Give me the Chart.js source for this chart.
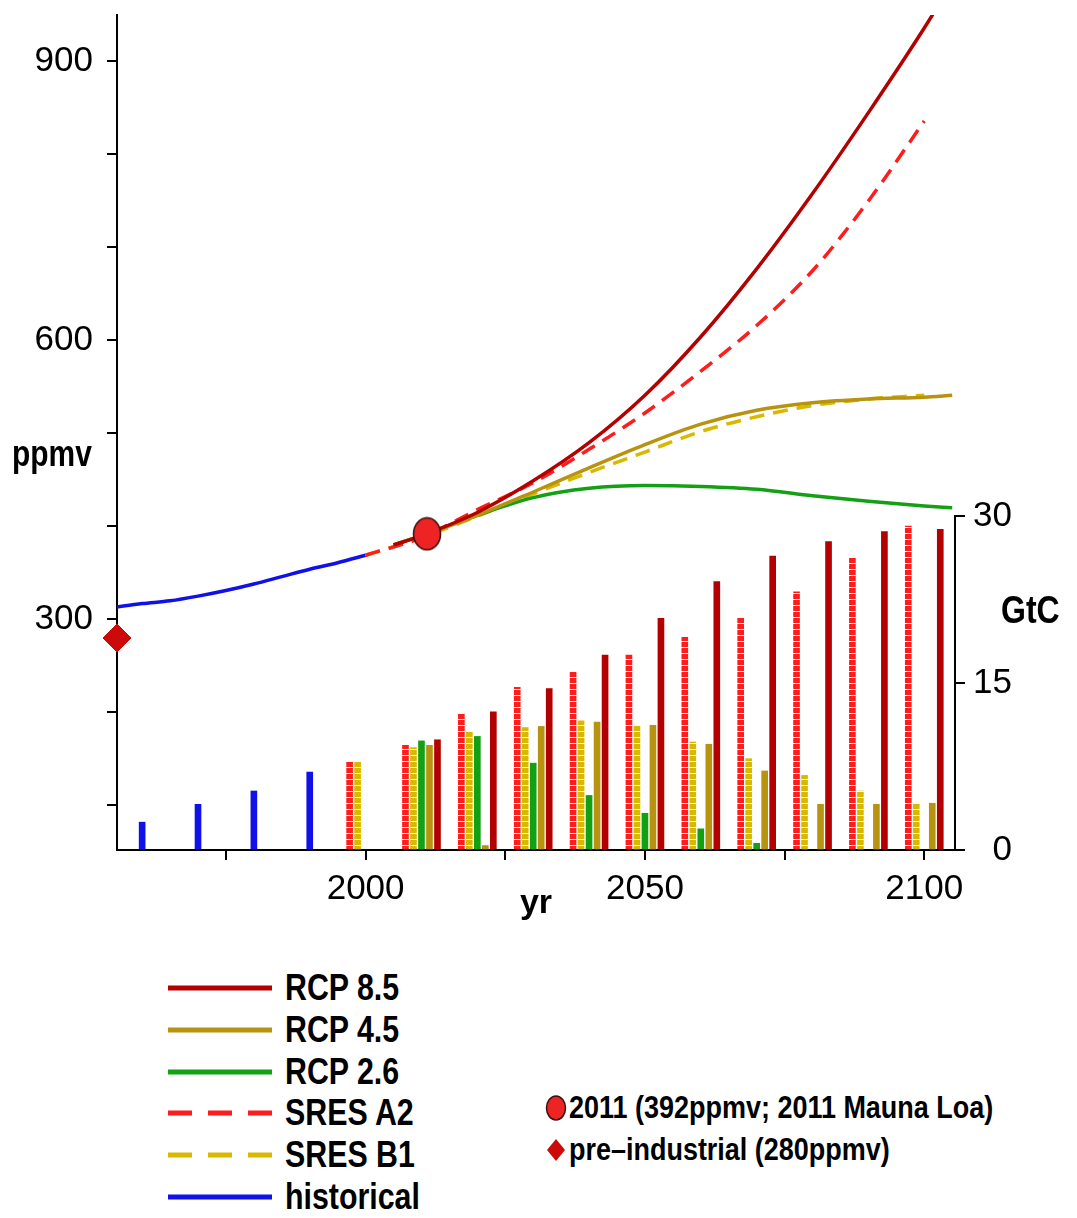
<!DOCTYPE html>
<html>
<head>
<meta charset="utf-8">
<title>CO2 concentration and emissions</title>
<script src="https://cdn.jsdelivr.net/npm/chart.js@4.4.0/dist/chart.umd.min.js"></script>
<style>
  body { margin: 0; background: #fff; width: 1077px; height: 1218px; position: relative; overflow: hidden;
         font-family: 'Liberation Sans', Arial, sans-serif; }
  #chart { position: absolute; left: 0; top: 0; }
  .key { position: absolute; display: flex; align-items: center; height: 42px; font-weight: bold; color: #000; white-space: nowrap; }
  .key svg { margin-right: 12px; flex: none; }
  .key span { display: inline-block; transform-origin: left center; }
  .big { font-size: 37px; }
  .big span { transform: scaleX(0.82); }
  .small { font-size: 31px; }
  .small span { transform: scaleX(0.87); }
</style>
</head>
<body>
<canvas id="chart" width="1077" height="960"></canvas>
<div id="legend"></div>
<script>
var FONT = "'Liberation Sans', Arial, sans-serif";

// CO2 concentration, ppmv
var histYears = [1955, 1960, 1965, 1970, 1975, 1980, 1985, 1990, 1995, 2000];
var histPpmv = [313, 317, 320, 325, 331, 338, 346, 354, 361, 369];

var rcpYears = [2005, 2010, 2020, 2030, 2040, 2050, 2060, 2070, 2080, 2090, 2100, 2105];
var rcp85 = [380, 390, 415, 449, 490, 541, 604, 677, 758, 845, 936, 985];
var rcp45 = [380, 390, 412, 437, 463, 488, 510, 525, 533, 537, 539, 541];
var rcp26 = [380, 390, 412, 431, 441, 444, 443, 440, 433, 427, 422, 420];

var sresYears = [2000, 2010, 2020, 2030, 2040, 2050, 2060, 2070, 2080, 2090, 2100];
var sresA2 = [369, 388, 418, 447, 483, 522, 567, 616, 675, 750, 836];
var sresB1 = [369, 388, 411, 435, 458, 480, 502, 518, 530, 537, 541];

// markers
var obsYear = [2011];
var obsPpmv = [392];
var preIndYear = [1955.5];
var preIndPpmv = [280];

// emissions, GtC (one value per decade)
var barYears = [1960, 1970, 1980, 1990, 2000, 2010, 2020, 2030, 2040, 2050, 2060, 2070, 2080, 2090, 2100];
var histGtC = [2.5, 4.1, 5.3, 7.0, null, null, null, null, null, null, null, null, null, null, null];
var a2GtC = [null, null, null, null, 7.9, 9.4, 12.2, 14.6, 16.0, 17.5, 19.1, 20.9, 23.2, 26.2, 29.1];
var b1GtC = [null, null, null, null, 7.9, 9.2, 10.6, 11.0, 11.6, 11.2, 9.7, 8.2, 6.7, 5.3, 4.2];
var rcp26GtC = [null, null, null, null, null, 9.8, 10.2, 7.8, 4.9, 3.3, 1.9, 0.6, null, null, null];
var rcp45GtC = [null, null, null, null, null, 9.4, 0.4, 11.1, 11.5, 11.2, 9.5, 7.1, 4.1, 4.1, 4.2];
var rcp85GtC = [null, null, null, null, null, 9.9, 12.4, 14.5, 17.5, 20.8, 24.1, 26.4, 27.7, 28.6, 28.8];

// axis ticks
var xTicks = [1975, 2000, 2025, 2050, 2075, 2100];
var ppmvTicks = [100, 200, 300, 400, 500, 600, 700, 800, 900];
var gtcTicks = [0, 15, 30];

// colours
var cRcp85 = '#b30000';
var cRcp45 = '#b8930f';
var cRcp26 = '#14a014';
var cA2 = '#ff1c1c';
var cB1 = '#d9b800';
var cHist = '#1010e8';

function points(xs, ys) {
  return xs.map(function (x, i) { return { x: x, y: ys[i] }; });
}

//red / yellow bars with thin white dashes for the SRES bars
function dashPattern(color) {
  var c = document.createElement('canvas');
  c.width = 8;
  c.height = 6;
  var g = c.getContext('2d');
  g.fillStyle = color;
  g.fillRect(0, 0, 8, 6);
  g.fillStyle = '#fff';
  g.fillRect(0, 5, 8, 1.2);
  return document.getElementById('chart').getContext('2d').createPattern(c, 'repeat');
}

//the 2011 marker is a slightly tall ellipse
function ellipseMarker(w, h) {
  var c = document.createElement('canvas');
  c.width = w + 3;
  c.height = h + 3;
  var g = c.getContext('2d');
  g.beginPath();
  g.ellipse(c.width / 2, c.height / 2, w / 2, h / 2, 0, 0, 2 * Math.PI);
  g.fillStyle = '#ee2424';
  g.fill();
  g.lineWidth = 1.6;
  g.strokeStyle = '#3b1010';
  g.stroke();
  return c;
}

function lineSet(label, xs, ys, color, dash) {
  return {
    type: 'line', label: label, data: points(xs, ys), yAxisID: 'y',
    borderColor: color, backgroundColor: color, borderWidth: 3.5, borderDash: dash || [],
    pointRadius: 0, fill: false, cubicInterpolationMode: 'monotone'
  };
}

function barSet(label, ys, fill, grouped) {
  return {
    type: 'bar', label: label, data: points(barYears, ys), yAxisID: 'y2',
    backgroundColor: fill, borderWidth: 0, barThickness: 8, maxBarThickness: 6, grouped: grouped
  };
}

//draw text squeezed sideways (the original uses a narrow face)
function narrowText(ctx, text, x, y, squeeze) {
  ctx.save();
  ctx.translate(x, y);
  ctx.scale(squeeze, 1);
  ctx.fillText(text, 0, 0);
  ctx.restore();
}

//right axis line only runs from 0 to 30 GtC, plus the free axis labels
var extraAxis = {
  id: 'extraAxis',
  afterDraw: function (chart) {
    var ctx = chart.ctx;
    var s = chart.scales.y2;
    var x = chart.chartArea.right;
    ctx.save();
    ctx.strokeStyle = '#000';
    ctx.lineWidth = 2;
    ctx.beginPath();
    ctx.moveTo(x, s.getPixelForValue(gtcTicks[0]) + 1);
    ctx.lineTo(x, s.getPixelForValue(gtcTicks[gtcTicks.length - 1]) - 1);
    ctx.stroke();
    ctx.fillStyle = '#000';
    ctx.textBaseline = 'middle';
    ctx.textAlign = 'left';
    ctx.font = 'bold 37px ' + FONT;
    narrowText(ctx, 'ppmv', 12, 456, 0.81);
    ctx.font = 'bold 39px ' + FONT;
    narrowText(ctx, 'GtC', 1001, 612, 0.82);
    ctx.restore();
  }
};

var tickFont = { family: FONT, size: 35 };

new Chart(document.getElementById('chart'), {
  type: 'line',
  data: {
    datasets: [
      {
        type: 'scatter', label: '2011 (392ppmv; 2011 Mauna Loa)', data: points(obsYear, obsPpmv), yAxisID: 'y',
        pointStyle: ellipseMarker(27, 32), pointRadius: 14
      },
      {
        type: 'scatter', label: 'pre-industrial (280ppmv)', data: points(preIndYear, preIndPpmv), yAxisID: 'y',
        pointStyle: 'rectRot', pointRadius: 14, backgroundColor: '#cc0a0a', borderColor: '#cc0a0a', clip: false
      },
      lineSet('RCP 8.5', rcpYears, rcp85, cRcp85),
      lineSet('RCP 4.5', rcpYears, rcp45, cRcp45),
      lineSet('RCP 2.6', rcpYears, rcp26, cRcp26),
      lineSet('SRES A2', sresYears, sresA2, cA2, [15, 9]),
      lineSet('SRES B1', sresYears, sresB1, cB1, [15, 9]),
      lineSet('historical', histYears, histPpmv, cHist),
      barSet('SRES A2 emissions', a2GtC, dashPattern(cA2), true),
      barSet('SRES B1 emissions', b1GtC, dashPattern(cB1), true),
      barSet('RCP 2.6 emissions', rcp26GtC, cRcp26, true),
      barSet('RCP 4.5 emissions', rcp45GtC, cRcp45, true),
      barSet('RCP 8.5 emissions', rcp85GtC, cRcp85, true),
      barSet('historical emissions', histGtC, cHist, false)
    ]
  },
  options: {
    responsive: false,
    animation: false,
    layout: { padding: { top: 15, left: 0, right: 65, bottom: 0 } },
    plugins: { legend: { display: false }, tooltip: { enabled: false } },
    scales: {
      x: {
        type: 'linear', min: 1955.5, max: 2105.5, offset: false,
        afterBuildTicks: function (s) { s.ticks = xTicks.map(function (v) { return { value: v }; }); },
        afterFit: function (s) { s.height = 110; s.paddingLeft = 0; s.paddingRight = 0; },
        ticks: {
          color: '#000', font: tickFont, padding: 8, maxRotation: 0, autoSkip: false,
          callback: function (v) { return v % 50 === 0 ? String(v) : ''; }
        },
        grid: { drawOnChartArea: false, offset: false, tickLength: 10, color: '#000', lineWidth: 2 },
        border: { color: '#000', width: 2 },
        title: { display: true, text: 'yr', color: '#000', font: { family: FONT, size: 34, weight: 'bold' }, padding: { top: 0, bottom: 36 } }
      },
      y: {
        type: 'linear', position: 'left', min: 52, max: 950,
        afterBuildTicks: function (s) { s.ticks = ppmvTicks.map(function (v) { return { value: v }; }); },
        afterFit: function (s) { s.width = 117; s.paddingTop = 0; s.paddingBottom = 0; },
        ticks: {
          color: '#000', font: tickFont, padding: 14,
          callback: function (v) { return v % 300 === 0 ? String(v) : ''; }
        },
        grid: { drawOnChartArea: false, tickLength: 10, color: '#000', lineWidth: 2 },
        border: { color: '#000', width: 2 }
      },
      y2: {
        type: 'linear', position: 'right', min: 0, max: 75,
        afterBuildTicks: function (s) { s.ticks = gtcTicks.map(function (v) { return { value: v }; }); },
        afterFit: function (s) { s.width = 57; s.paddingTop = 0; s.paddingBottom = 0; },
        ticks: { color: '#000', font: tickFont, padding: 10, crossAlign: 'far' },
        grid: { drawOnChartArea: false, tickLength: 10, color: '#000', lineWidth: 2 },
        border: { display: false }
      }
    }
  },
  plugins: [extraAxis]
});

//Legend below the chart
var lineKeys = [
  { label: 'RCP 8.5', color: cRcp85, dash: '' },
  { label: 'RCP 4.5', color: cRcp45, dash: '' },
  { label: 'RCP 2.6', color: cRcp26, dash: '' },
  { label: 'SRES A2', color: cA2, dash: '24 16' },
  { label: 'SRES B1', color: cB1, dash: '24 16' },
  { label: 'historical', color: cHist, dash: '' }
];
var legend = document.getElementById('legend');
var html = '';
lineKeys.forEach(function (k, i) {
  html += '<div class="key big" style="left:167px;top:' + (967 + i * 41.8) + 'px">' +
    '<svg width="106" height="10"><line x1="1" y1="5" x2="105" y2="5" stroke="' + k.color + '" stroke-width="5"' +
    (k.dash ? ' stroke-dasharray="' + k.dash + '"' : '') + '/></svg><span>' + k.label + '</span></div>';
});
html += '<div class="key small" style="left:545px;top:1087px">' +
  '<svg width="22" height="28" style="margin-right:2px"><ellipse cx="11" cy="14" rx="9.5" ry="12" fill="#ee2424" stroke="#3b1010" stroke-width="1.5"/></svg>' +
  '<span>2011 (392ppmv; 2011 Mauna Loa)</span></div>';
html += '<div class="key small" style="left:545px;top:1129px">' +
  '<svg width="22" height="26" style="margin-right:2px"><polygon points="11,2 20,13 11,24 2,13" fill="#cc0a0a"/></svg>' +
  '<span>pre–industrial (280ppmv)</span></div>';
legend.innerHTML = html;
</script>
</body>
</html>
